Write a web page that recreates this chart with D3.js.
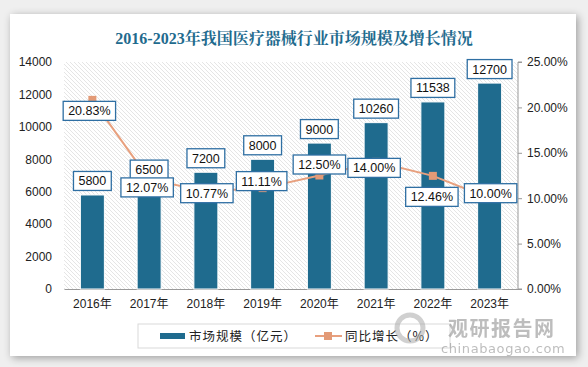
<!DOCTYPE html>
<html><head><meta charset="utf-8">
<script src="https://cdn.jsdelivr.net/npm/d3@7/dist/d3.min.js"></script>
<style>
html,body{margin:0;padding:0;background:#efefef;}
svg{display:block;}
</style></head>
<body>
<script>
const categories = ["2016年","2017年","2018年","2019年","2020年","2021年","2022年","2023年"];
const marketSize = [5800,6500,7200,8000,9000,10260,11538,12700];
const growth = [20.83,12.07,10.77,11.11,12.50,14.00,12.46,10.00];
const growthLabels = ["20.83%","12.07%","10.77%","11.11%","12.50%","14.00%","12.46%","10.00%"];
const leftTicks = [0,2000,4000,6000,8000,10000,12000,14000];
const rightTicks = [0,5,10,15,20,25];
// layout: label offsets (px) from marker
const pctDx = [-3,-2,1,-1,0,-2,-1,1];
const pctDy = [11,8,2,-7,-11,6,21,-5];

const W=588,H=367;
const svg=d3.select("body").append("svg").attr("width",W).attr("height",H);
const defs=svg.append("defs");
const f=defs.append("filter").attr("id","sh").attr("x","-10%").attr("y","-10%").attr("width","120%").attr("height","120%");
f.append("feGaussianBlur").attr("in","SourceAlpha").attr("stdDeviation",4);
f.append("feOffset").attr("dx",2).attr("dy",2).attr("result","b");
f.append("feComponentTransfer").append("feFuncA").attr("type","linear").attr("slope",0.35);
const fm=f.append("feMerge");fm.append("feMergeNode");fm.append("feMergeNode").attr("in","SourceGraphic");
const pat=defs.append("pattern").attr("id","hatch").attr("patternUnits","userSpaceOnUse").attr("width",4).attr("height",4);
pat.append("path").attr("d","M-1,1 L1,-1 M0,4 L4,0 M3,5 L5,3").attr("stroke","#dedede").attr("stroke-width",0.8).attr("transform","scale(-1,1) translate(-4,0)");

svg.append("rect").attr("x",10).attr("y",14).attr("width",566).attr("height",342).attr("fill","#fff").attr("filter","url(#sh)");

svg.append("text").attr("x",294).attr("y",44).attr("text-anchor","middle")
 .attr("font-family","'Liberation Serif','Noto Serif CJK SC','Noto Sans CJK SC',serif").attr("font-weight","bold")
 .attr("font-size",16).attr("fill","#1f6b8e").text("2016-2023年我国医疗器械行业市场规模及增长情况");

const L=64,R=518,T=62,B=289;
const x=d3.scaleBand().domain(categories).range([L,R]);
const yL=d3.scaleLinear().domain([0,14000]).range([B,T]);
const yR=d3.scaleLinear().domain([0,25]).range([B,T]);

svg.append("rect").attr("x",L).attr("y",T).attr("width",R-L).attr("height",B-T).attr("fill","url(#hatch)");

const font="'Liberation Sans','DejaVu Sans',sans-serif";
const gl=svg.append("g").attr("transform",`translate(${L},0)`)
 .call(d3.axisLeft(yL).tickValues(leftTicks).tickSize(0).tickPadding(12).tickFormat(d3.format("d")));
gl.select(".domain").remove();
gl.selectAll("text").attr("font-size",12).attr("font-family",font).attr("fill","#222");

const gr=svg.append("g").attr("transform",`translate(${R},0)`)
 .call(d3.axisRight(yR).tickValues(rightTicks).tickSize(4).tickPadding(5).tickFormat(d=>d.toFixed(2)+"%"));
gr.select(".domain").attr("stroke","#999").attr("d",`M4,${B}H0V${T}H4`);
gr.selectAll("line").attr("stroke","#999");
gr.selectAll("text").attr("font-size",12).attr("font-family",font).attr("fill","#222");

const gb=svg.append("g").attr("transform",`translate(0,${B})`)
 .call(d3.axisBottom(x).tickSize(0).tickPadding(10));
gb.select(".domain").attr("stroke","#999");
gb.selectAll("text").attr("font-size",12).attr("font-family","'Liberation Sans','Noto Sans CJK SC',sans-serif").attr("fill","#222");

const bw=24;
svg.append("g").selectAll("rect").data(marketSize).join("rect")
 .attr("x",(d,i)=>x(categories[i])+x.bandwidth()/2-bw/2).attr("width",bw)
 .attr("y",d=>yL(d)).attr("height",d=>B-yL(d))
 .attr("fill","#1f6b8e").attr("stroke","#fff").attr("stroke-width",1);

const lc="#e8a07e";
const line=d3.line().x((d,i)=>x(categories[i])+x.bandwidth()/2).y(d=>yR(d));
svg.append("path").datum(growth).attr("d",line).attr("fill","none").attr("stroke",lc).attr("stroke-width",2);
svg.append("g").selectAll("rect").data(growth).join("rect")
 .attr("x",(d,i)=>x(categories[i])+x.bandwidth()/2-4).attr("y",d=>yR(d)-4)
 .attr("width",8).attr("height",8).attr("fill","#e39a76");

function box(g,cx,cy,txt){
 const t=g.append("text").attr("x",cx).attr("y",cy+4.5).attr("text-anchor","middle")
  .attr("font-family","'Liberation Sans','DejaVu Sans',sans-serif").attr("font-size",12.5).attr("fill","#111").text(txt);
 const w=t.node().getComputedTextLength()+10;
 g.insert("rect","text").attr("x",cx-w/2).attr("y",cy-9.5).attr("width",w).attr("height",19)
  .attr("fill","#fff").attr("stroke","#2f6fa3").attr("stroke-width",1.3);
}
marketSize.forEach((d,i)=>{
 const g=svg.append("g");
 box(g,x(categories[i])+x.bandwidth()/2,yL(d)-14,String(d));
});
growth.forEach((d,i)=>{
 const g=svg.append("g");
 box(g,x(categories[i])+x.bandwidth()/2+pctDx[i],yR(d)+pctDy[i],growthLabels[i]);
});

// legend
const lg=svg.append("g");
lg.append("rect").attr("x",138).attr("y",324).attr("width",312).attr("height",24).attr("fill","#fff").attr("stroke","#d9d9d9");
lg.append("rect").attr("x",160).attr("y",333).attr("width",25).attr("height",6).attr("fill","#1f6b8e");
lg.append("text").attr("x",189).attr("y",341).attr("font-size",12.5).attr("letter-spacing",1).attr("font-family","'Noto Sans CJK SC',sans-serif").attr("fill","#222").text("市场规模（亿元）");
lg.append("line").attr("x1",315).attr("x2",342).attr("y1",336).attr("y2",336).attr("stroke",lc).attr("stroke-width",2);
lg.append("rect").attr("x",324).attr("y",332).attr("width",8).attr("height",8).attr("fill","#e39a76");
lg.append("text").attr("x",345).attr("y",341).attr("font-size",12.5).attr("letter-spacing",1).attr("font-family","'Noto Sans CJK SC',sans-serif").attr("fill","#222").text("同比增长（%）");

// watermark
const wm=svg.append("g").attr("opacity",0.55);
wm.append("circle").attr("cx",410).attr("cy",328).attr("r",13).attr("fill","none").attr("stroke","#aaa").attr("stroke-width",5);
wm.append("text").attr("x",448).attr("y",336).attr("font-size",20).attr("font-weight","bold").attr("letter-spacing",1.5).attr("font-family","'Noto Sans CJK SC',sans-serif").attr("fill","#888").text("观研报告网");
wm.append("text").attr("x",441).attr("y",353).attr("font-size",13).attr("font-family","'DejaVu Sans',sans-serif").attr("fill","#888").attr("letter-spacing",0.6).text("chinabaogao.com");
</script>
</body></html>
